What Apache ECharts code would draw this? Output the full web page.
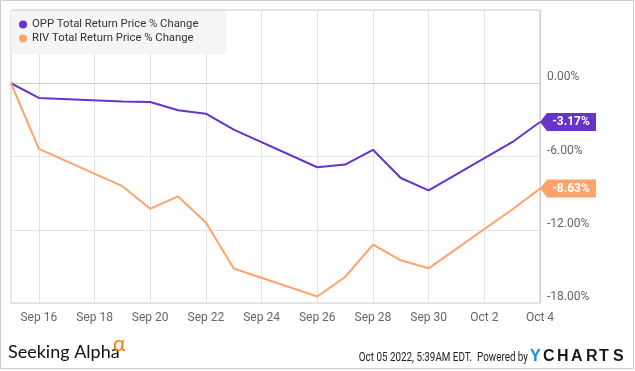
<!DOCTYPE html>
<html><head><meta charset="utf-8">
<script src="https://cdn.jsdelivr.net/npm/echarts@6/dist/echarts.min.js"></script>
<style>html,body{margin:0;padding:0;background:#fff}#c{width:635px;height:371px}</style>
</head><body><div id="c"></div>
<script>
// Calendar days shown on the x axis
const axisDays = ['Sep 15','Sep 16','Sep 17','Sep 18','Sep 19','Sep 20','Sep 21','Sep 22','Sep 23','Sep 24',
  'Sep 25','Sep 26','Sep 27','Sep 28','Sep 29','Sep 30','Oct 1','Oct 2','Oct 3','Oct 4'];
// Trading days with observations
const tradeDays = ['Sep 15','Sep 16','Sep 19','Sep 20','Sep 21','Sep 22','Sep 23','Sep 26','Sep 27','Sep 28','Sep 29','Sep 30','Oct 3','Oct 4'];
const oppValues = [0, -1.20, -1.50, -1.53, -2.21, -2.49, -3.80, -6.88, -6.66, -5.45, -7.76, -8.77, -4.83, -3.17];
const rivValues = [0, -5.38, -8.43, -10.28, -9.27, -11.41, -15.18, -17.47, -15.87, -13.22, -14.50, -15.16, -10.34, -8.63];
const seriesNames = ['OPP Total Return Price % Change', 'RIV Total Return Price % Change'];
const yTicks = [-18, -12, -6, 0, 6];

const colors = ['#6634c8', '#fda46c'];
const chart = echarts.init(document.getElementById('c'), null, {renderer: 'canvas'});
const every2 = (i) => i % 2 === 1;

function mkSeries(name, vals, color) {
  const last = vals.length - 1;
  return {
    name: name, type: 'line', showSymbol: false, symbol: 'circle',
    data: tradeDays.map((d, i) => [d, vals[i]]),
    lineStyle: {color: color, width: 2}, itemStyle: {color: color},
    markPoint: {
      symbol: 'path://M0,9 L7,0 L56,0 L56,18 L7,18 Z',
      symbolSize: [56, 18], symbolOffset: ['50%', 0], symbolKeepAspect: false,
      itemStyle: {color: color},
      label: {show: true, position: 'inside', offset: [3, 0], color: '#fff', fontWeight: 'bold',
        fontSize: 12, fontFamily: 'Roboto', formatter: (p) => p.value.toFixed(2) + '%'},
      data: [{coord: [tradeDays[last], vals[last]], value: vals[last]}]
    }
  };
}

const letters = [['Y',530,'#1a8be0'],['C',543,'#1b1b1b'],['H',557,'#1b1b1b'],['A',571,'#1b1b1b'],['R',586,'#1b1b1b'],['T',599,'#1b1b1b'],['S',613,'#1b1b1b']];

chart.setOption({
  animation: false,
  backgroundColor: '#fff',
  color: colors,
  grid: {left: 11, right: 95, top: 10, bottom: 68, show: true, borderColor: '#cccccc', borderWidth: 1},
  legend: {
    orient: 'vertical', left: 11, top: 11, padding: [8, 28, 10, 8], itemGap: 3,
    backgroundColor: '#f5f5f5', icon: 'circle', itemWidth: 8, itemHeight: 8,
    textStyle: {color: '#333', fontSize: 11.3, fontFamily: 'Roboto'},
    data: seriesNames
  },
  xAxis: {
    type: 'category', data: axisDays, boundaryGap: false,
    axisLine: {show: true, lineStyle: {color: '#cccccc'}},
    axisTick: {show: false},
    axisLabel: {interval: every2, color: '#666', fontSize: 12, fontFamily: 'Roboto', margin: 9},
    splitLine: {show: true, interval: every2, lineStyle: {color: '#e3e3e3', width: 1}}
  },
  yAxis: {
    type: 'value', position: 'right', min: yTicks[0], max: yTicks[yTicks.length - 1], interval: 6,
    axisLine: {show: true, lineStyle: {color: '#cccccc'}},
    axisTick: {show: false},
    axisLabel: {color: '#666', fontSize: 12, fontFamily: 'Roboto', margin: 7, verticalAlign: 'bottom',
      lineHeight: 12,
      formatter: (v) => v === yTicks[yTicks.length - 1] ? '' : v.toFixed(2) + '%'},
    splitLine: {show: true, lineStyle: {color: '#e3e3e3', width: 1}}
  },
  series: [mkSeries(seriesNames[0], oppValues, colors[0]), mkSeries(seriesNames[1], rivValues, colors[1])],
  graphic: [
    {type: 'rect', shape: {x: 0.5, y: 0.5, width: 633, height: 368}, style: {fill: 'none', stroke: '#cccccc', lineWidth: 1}, silent: true},
    {type: 'text', x: 8, y: 352, style: {text: 'Seeking Alpha', fontSize: 18, fontFamily: 'Lato', fill: '#111', verticalAlign: 'middle'}},
    {type: 'text', x: 113, y: 344, style: {text: 'α', fontSize: 21, fontFamily: 'Lato', fill: '#f57c00', verticalAlign: 'middle'}},
    {type: 'text', x: 528, y: 358, scaleX: 0.82, originX: 0, style: {text: 'Oct 05 2022, 5:39AM EDT.  Powered by', fontSize: 12, fontFamily: 'Roboto', fill: '#222', align: 'right', verticalAlign: 'middle'}}
  ].concat(letters.map(l => ({type: 'text', x: l[1], y: 357, style: {text: l[0], fontSize: 16, fontWeight: 'bold', fontFamily: 'Liberation Sans', fill: l[2], verticalAlign: 'middle'}})))
});
</script></body></html>
